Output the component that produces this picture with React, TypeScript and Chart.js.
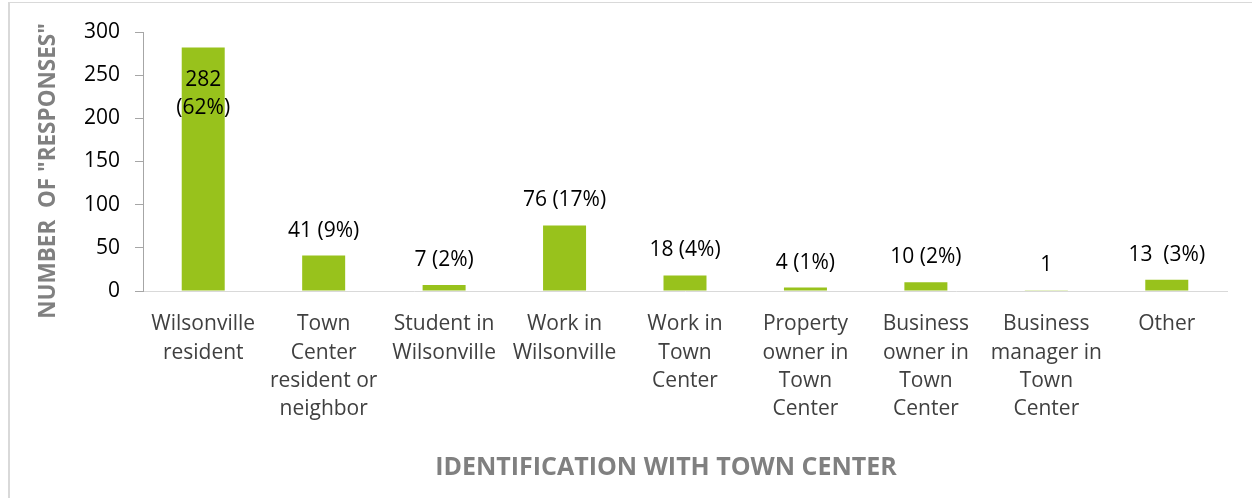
import React, { useEffect, useRef } from "react";
import { Chart, registerables } from "chart.js";

Chart.register(...registerables);

const categories: string[][] = [
  ["Wilsonville", "resident"],
  ["Town", "Center", "resident or", "neighbor"],
  ["Student in", "Wilsonville"],
  ["Work in", "Wilsonville"],
  ["Work in", "Town", "Center"],
  ["Property", "owner in", "Town", "Center"],
  ["Business", "owner in", "Town", "Center"],
  ["Business", "manager in", "Town", "Center"],
  ["Other"],
];
const responses: number[] = [282, 41, 7, 76, 18, 4, 10, 1, 13];
const valueLabels: (string | string[])[] = [
  ["282", "(62%)"],
  "41 (9%)",
  "7 (2%)",
  "76 (17%)",
  "18 (4%)",
  "4 (1%)",
  "10 (2%)",
  "1",
  "13  (3%)",
];
const yTicks = { min: 0, max: 300, step: 50 };
const xTitle = "IDENTIFICATION WITH TOWN CENTER";
const yTitle = 'NUMBER  OF "RESPONSES"';

const FONT = "'Open Sans', sans-serif";

const labelPlugin = {
  id: "valueLabels",
  afterDatasetsDraw(chart: any) {
    const ctx = chart.ctx;
    const meta = chart.getDatasetMeta(0);
    ctx.save();
    ctx.font = `21px ${FONT}`;
    ctx.fillStyle = "#000000";
    ctx.textAlign = "center";
    ctx.textBaseline = "middle";
    meta.data.forEach((bar: any, i: number) => {
      const lbl = valueLabels[i];
      if (Array.isArray(lbl)) {
        lbl.forEach((line, j) => {
          ctx.fillText(line, bar.x, bar.y + 32 + j * 28.5);
        });
      } else {
        ctx.fillText(lbl, bar.x, bar.y - 25);
      }
    });
    ctx.restore();
  },
};

const titlePlugin = {
  id: "axisTitles",
  afterDraw(chart: any) {
    const ctx = chart.ctx;
    ctx.save();
    ctx.fillStyle = "#808080";
    ctx.textAlign = "center";
    ctx.textBaseline = "middle";
    ctx.font = `bold 25px ${FONT}`;
    ctx.fillText(xTitle, 666, 468);
    ctx.translate(49, 171);
    ctx.rotate(-Math.PI / 2);
    ctx.font = `bold 22.5px ${FONT}`;
    ctx.fillText(yTitle, 0, 0);
    ctx.restore();
  },
};

export default function App() {
  const ref = useRef<HTMLCanvasElement | null>(null);
  useEffect(() => {
    if (!ref.current) return;
    const chart = new Chart(ref.current, {
      type: "bar",
      data: {
        labels: categories,
        datasets: [
          {
            data: responses,
            backgroundColor: "#98C21C",
            borderWidth: 0,
            categoryPercentage: 1,
            barPercentage: 0.357,
          },
        ],
      },
      options: {
        animation: false,
        responsive: false,
        maintainAspectRatio: false,
        layout: { padding: { top: 32, right: 27, bottom: 0, left: 0 } },
        plugins: {
          legend: { display: false },
          tooltip: { enabled: false },
        },
        scales: {
          x: {
            grid: { display: false, drawTicks: false },
            border: { display: true, color: "#d9d9d9", width: 1 },
            ticks: {
              autoSkip: false,
              maxRotation: 0,
              minRotation: 0,
              padding: 19,
              color: "#404040",
              font: { family: FONT, size: 21, lineHeight: 1.35 },
            },
            afterFit(scale: any) {
              scale.height = 207;
            },
          },
          y: {
            min: yTicks.min,
            max: yTicks.max,
            grid: {
              drawOnChartArea: false,
              drawTicks: true,
              tickLength: 8,
              color: "#a6a6a6",
            },
            border: { display: true, color: "#a6a6a6", width: 1 },
            ticks: {
              stepSize: yTicks.step,
              padding: 15,
              color: "#000000",
              font: { family: FONT, size: 21 },
            },
            afterFit(scale: any) {
              scale.width = 143;
            },
          },
        },
      },
      plugins: [labelPlugin, titlePlugin],
    });
    return () => chart.destroy();
  }, []);

  return (
    <>
      <div
        style={{
          position: "absolute",
          left: 8,
          top: 2,
          width: 1244,
          height: 496,
          borderTop: "1px solid #d9d9d9",
          borderLeft: "2px solid #d9d9d9",
          boxSizing: "border-box",
        }}
      />
      <canvas
        ref={ref}
        width={1254}
        height={498}
        style={{ position: "absolute", left: 0, top: 0, width: 1254, height: 498 }}
      />
    </>
  );
}
